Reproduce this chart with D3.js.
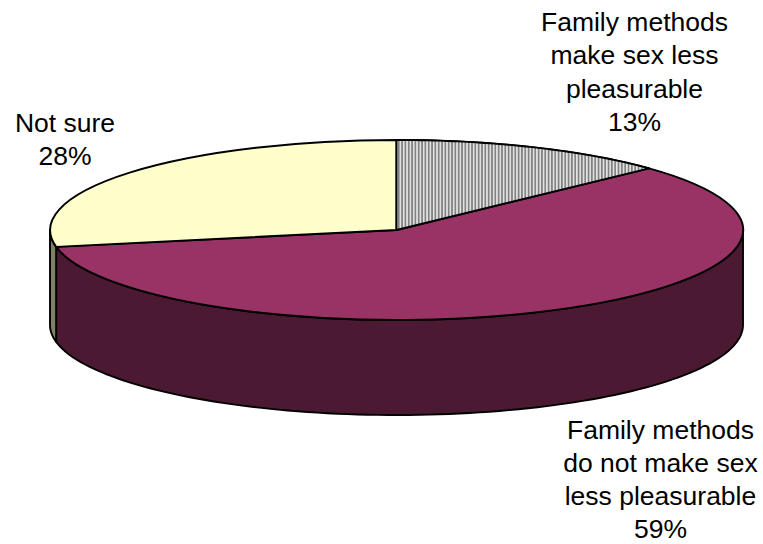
<!DOCTYPE html>
<html><head><meta charset="utf-8">
<script src="https://cdn.jsdelivr.net/npm/d3@7"></script>
<style>html,body{margin:0;padding:0;background:#fff}svg{display:block}text{font-family:"Liberation Sans",Arial,sans-serif;font-size:26.5px;fill:#000}</style>
</head><body><svg id="c" width="763" height="544"></svg>
<script>
const categories = ["Family methods make sex less pleasurable","Family methods do not make sex less pleasurable","Not sure"];
const shares = [13,59,28];
const labelLines = [["Family methods","make sex less","pleasurable","13%"],["Family methods","do not make sex","less pleasurable","59%"],["Not sure","28%"]];
const labelAnchors = [[634.5,31],[660.5,439],[65,132]];
const labelLeading = [33.4,33,33.4];
const topFills = ["url(#stripes)","#993366","#FFFFCC"];
const sideFills = ["#666666","#4C1933","#808066"];

const svg = d3.select("#c");
const x = d3.scaleLinear().domain([-1,1]).range([50,743]);
const y = d3.scaleLinear().domain([-1,1]).range([140,320]);
const depth = 95;
const defs = svg.append("defs");
const p = defs.append("pattern").attr("id","stripes").attr("patternUnits","userSpaceOnUse").attr("width",3.33).attr("height",4);
p.append("rect").attr("width",3.33).attr("height",4).attr("fill","#e4e4e4");
p.append("rect").attr("x",1.6).attr("width",1.7).attr("height",4).attr("fill","#808080");

const arcs = d3.pie().sort(null)(shares);
const px = a => x(Math.sin(a)), py = a => y(-Math.cos(a));
const sw = 1.9;

// side wall
const lo = Math.PI/2, hi = 3*Math.PI/2;
const wall = svg.append("g");
arcs.forEach((d,i)=>{
  const a0 = Math.max(d.startAngle,lo), a1 = Math.min(d.endAngle,hi);
  if(a1<=a0) return;
  const angles = d3.range(0,101).map(k=>a0+(a1-a0)*k/100);
  const top = angles.map(a=>[px(a),py(a)]);
  const bot = angles.slice().reverse().map(a=>[px(a),py(a)+depth]);
  wall.append("path").attr("d",d3.line()(top.concat(bot))+"Z")
    .attr("fill",sideFills[i]).attr("stroke","#000").attr("stroke-width",sw).attr("stroke-linejoin","round");
});

// top face
const rx = (x(1)-x(-1))/2, ry = (y(1)-y(-1))/2;
const arc = d3.arc().innerRadius(0).outerRadius(1);
svg.append("g").attr("transform",`translate(${x(0)},${y(0)}) scale(${rx},${ry})`)
  .selectAll("path").data(arcs).join("path")
  .attr("d",arc).attr("fill",(d,i)=>i===0?"none":topFills[i])
  .attr("stroke","#000").attr("stroke-width",sw).attr("vector-effect","non-scaling-stroke").attr("stroke-linejoin","round");
const s = arcs[0];
const sa = d3.range(0,61).map(k=>s.startAngle+(s.endAngle-s.startAngle)*k/60);
svg.append("path").attr("d",d3.line()([[x(0),y(0)]].concat(sa.map(a=>[px(a),py(a)])))+"Z")
  .attr("fill","url(#stripes)").attr("stroke","#000").attr("stroke-width",sw).attr("stroke-linejoin","round");

// labels
labelLines.forEach((lines,i)=>{
  const t = svg.append("text").attr("text-anchor","middle");
  lines.forEach((l,j)=>t.append("tspan").attr("x",labelAnchors[i][0]).attr("y",labelAnchors[i][1]+j*labelLeading[i]).text(l));
});
</script></body></html>
